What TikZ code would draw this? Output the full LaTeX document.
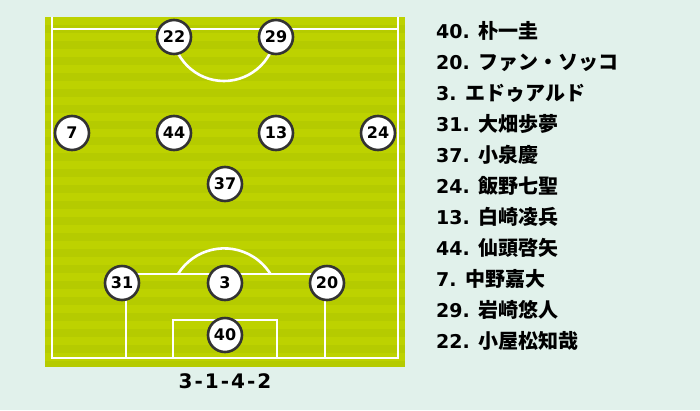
\documentclass[tikz,border=0pt]{standalone}
\usepackage{fontspec}
\setmainfont{DejaVu Sans}
\newfontfamily\jpfont{Noto Sans CJK JP}
\definecolor{bgmint}{HTML}{E1F1EB}
\definecolor{turfA}{HTML}{B5CB00}
\definecolor{turfB}{HTML}{BDD200}
\definecolor{ringgray}{HTML}{333333}

\begin{document}
\begin{tikzpicture}[x=1pt, y=-1pt,
  player/.style={circle, draw=ringgray, line width=2.6pt, fill=white,
    minimum size=34pt, inner sep=0pt, font=\fontsize{16}{16}\selectfont\bfseries},
  pitchline/.style={draw=white, line width=2.6pt},
  roster/.style={anchor=base west, inner sep=0pt,
    font=\fontsize{19}{19}\selectfont\bfseries}]
% background and turf
\fill[bgmint] (0,0) rectangle (700,410);
\useasboundingbox (0,0) rectangle (700,410);
\fill[turfA] (45,17) rectangle (405,367);
\foreach \s in {0,...,21}
  \fill[turfB] (45,17+\s*16) rectangle (405,25+\s*16);
% pitch lines
\draw[pitchline] (52,17) -- (52,358) -- (398,358) -- (398,17);
\draw[pitchline] (52,29) -- (398,29);
\draw[pitchline] (172,29) arc[start angle=180, end angle=0, radius=52];
\draw[pitchline] (126,358) -- (126,274) -- (325,274) -- (325,358);
\draw[pitchline] (173,358) -- (173,320) -- (277,320) -- (277,358);
\draw[pitchline] (178,274) arc[start angle=212, end angle=328, radius=54.5];
% players
\foreach \num/\x/\y in {22/174/37, 29/276/37,
    7/72/133, 44/174/133, 13/276/133, 24/378/133,
    37/225/184,
    31/122/283, 3/225/283, 20/327/283,
    40/225/335}
  \node[player] (p\num) at (\x,\y) {\num};
% formation
\node[anchor=base, inner sep=0pt, font=\fontsize{20}{20}\selectfont\bfseries]
  (formation) at (225,388) {3\kern2pt-\kern2pt1\kern2pt-\kern2pt4\kern2pt-\kern2pt2};
% roster
\foreach \num/\name [count=\i from 0] in {40/朴一圭, 20/ファン・ソッコ,
    3/エドゥアルド, 31/大畑歩夢, 37/小泉慶, 24/飯野七聖, 13/白崎凌兵,
    44/仙頭啓矢, 7/中野嘉大, 29/岩崎悠人, 22/小屋松知哉}
  \node[roster] (name\num) at (436,38+\i*31)
    {\num.\hspace{9pt}{\jpfont\fontsize{20}{20}\selectfont\bfseries\name}};
\end{tikzpicture}
\end{document}
